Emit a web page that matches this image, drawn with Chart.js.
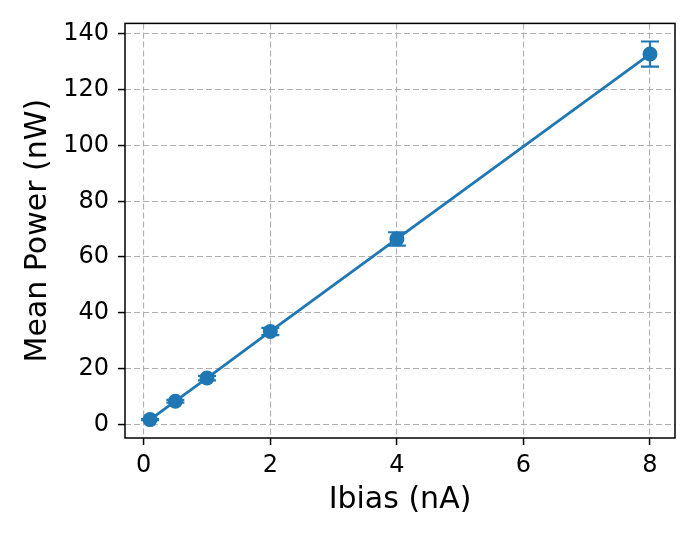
<!DOCTYPE html>
<html>
<head>
<meta charset="utf-8">
<script src="https://cdn.jsdelivr.net/npm/chart.js@4"></script>
<style>
  html, body { margin: 0; padding: 0; background: #fff; }
  #wrap { width: 698px; height: 543px; }
</style>
</head>
<body>
<div id="wrap"><canvas id="chart" width="698" height="543"></canvas></div>
<script>
const ibias = [0.1, 0.5, 1, 2, 4, 8];
const meanPower = [1.7, 8.3, 16.6, 33.3, 66.5, 132.8];
const powerErr = [0.2, 0.5, 0.8, 1.3, 2.4, 4.5];
const xTicks = [0, 2, 4, 6, 8];
const yTicks = [0, 20, 40, 60, 80, 100, 120, 140];

const blue = "#1f77b4";

// error bars with caps, drawn through the y scale
const errorBars = {
  id: "errorBars",
  afterDatasetsDraw(chart) {
    const { ctx, scales: { x, y } } = chart;
    ctx.save();
    ctx.strokeStyle = blue;
    ctx.lineWidth = 2.2;
    ibias.forEach((v, i) => {
      const px = x.getPixelForValue(v);
      const top = y.getPixelForValue(meanPower[i] + powerErr[i]);
      const bot = y.getPixelForValue(meanPower[i] - powerErr[i]);
      ctx.beginPath();
      ctx.moveTo(px, top); ctx.lineTo(px, bot);
      ctx.moveTo(px - 9, top); ctx.lineTo(px + 9, top);
      ctx.moveTo(px - 9, bot); ctx.lineTo(px + 9, bot);
      ctx.stroke();
    });
    ctx.restore();
  }
};

const frame = {
  id: "frame",
  afterDraw(chart) {
    const { ctx, chartArea: a } = chart;
    ctx.save();
    ctx.strokeStyle = "#000";
    ctx.lineWidth = 1.5;
    ctx.strokeRect(a.left, a.top, a.right - a.left, a.bottom - a.top);
    ctx.restore();
  }
};

const gridOpts = {
  color: "#b0b0b0",
  lineWidth: 1.1,
  tickColor: "#000",
  tickLength: 7,
  tickWidth: 1.5,
  tickBorderDash: []
};
const borderOpts = { display: false, dash: [6, 3] };
const tickFont = { family: "DejaVu Sans", size: 24 };
const titleFont = { family: "DejaVu Sans", size: 30 };

new Chart(document.getElementById("chart"), {
  type: "scatter",
  data: {
    datasets: [{
      data: ibias.map((v, i) => ({ x: v, y: meanPower[i] })),
      showLine: true,
      borderColor: blue,
      backgroundColor: blue,
      borderWidth: 2.8,
      pointRadius: 7.5,
      pointHoverRadius: 7.5,
      pointBorderWidth: 0
    }]
  },
  options: {
    responsive: false,
    animation: false,
    layout: { padding: { top: 23, right: 23, left: 0, bottom: 0 } },
    plugins: { legend: { display: false }, tooltip: { enabled: false } },
    scales: {
      x: {
        type: "linear",
        min: -0.296,
        max: 8.395,
        afterBuildTicks: s => { s.ticks = xTicks.map(v => ({ value: v })); },
        afterFit: s => { s.height = 105; },
        grid: gridOpts,
        border: borderOpts,
        ticks: { color: "#000", font: tickFont, padding: 6, maxRotation: 0 },
        title: {
          display: true, text: "Ibias (nA)", color: "#000",
          font: titleFont, padding: { top: 4, bottom: 25 }
        }
      },
      y: {
        type: "linear",
        min: -4.9,
        max: 143.8,
        afterBuildTicks: s => { s.ticks = yTicks.map(v => ({ value: v })); },
        afterFit: s => { s.width = 125; },
        grid: gridOpts,
        border: borderOpts,
        ticks: { color: "#000", font: tickFont, padding: 9 },
        title: {
          display: true, text: "Mean Power (nW)", color: "#000",
          font: titleFont, padding: { top: 20, bottom: 0 }
        }
      }
    }
  },
  plugins: [errorBars, frame]
});
</script>
</body>
</html>
